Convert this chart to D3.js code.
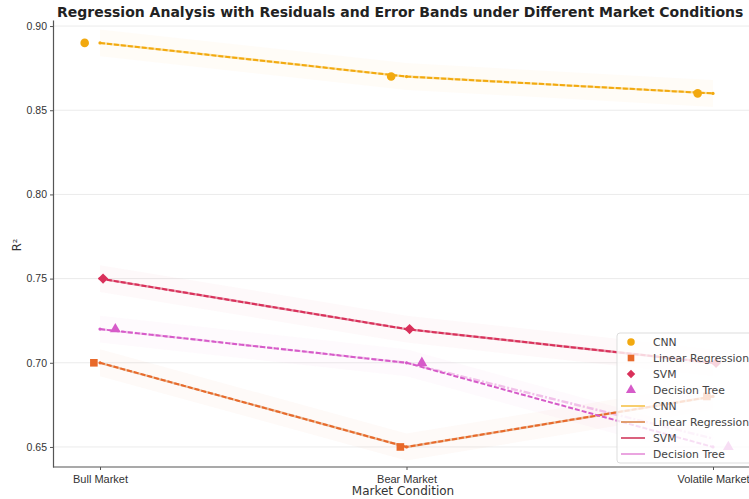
<!DOCTYPE html>
<html>
<head>
<meta charset="utf-8">
<script src="https://cdn.jsdelivr.net/npm/d3@7"></script>
<style>
  body { margin: 0; background: #fff; }
  svg { font-family: "DejaVu Sans", sans-serif; }
  .grid line { stroke: #ebebeb; stroke-width: 1; }
  .axis path, .axis line { stroke: #555; }
  .axis text { fill: #333; }
</style>
</head>
<body>
<svg id="chart" width="749" height="499"></svg>
<script>
// data
const categories = ["Bull Market", "Bear Market", "Volatile Market"];
const models = ["CNN", "Linear Regression", "SVM", "Decision Tree"];
const cnnR2 = [0.89, 0.87, 0.86];
const linRegR2 = [0.70, 0.65, 0.68];
const svmR2 = [0.75, 0.72, 0.70];
const treeR2 = [0.72, 0.70, 0.65];
const treeFit = [0.72, 0.70, 0.655];
const yTicks = [0.65, 0.70, 0.75, 0.80, 0.85, 0.90];

const series = [
  { name: models[0], values: cnnR2, fit: cnnR2, color: "#f2a90f", lineColor: "#f5c24a", shape: d3.symbolCircle, jitter: -0.05 },
  { name: models[1], values: linRegR2, fit: linRegR2, color: "#e8692a", lineColor: "#d9884e", shape: d3.symbolSquare, jitter: -0.02 },
  { name: models[2], values: svmR2, fit: svmR2, color: "#d9305a", lineColor: "#d13a5e", shape: d3.symbolSquare, rotate: 45, jitter: 0.01 },
  { name: models[3], values: treeR2, fit: treeFit, color: "#d65bc9", lineColor: "#e58fd8", shape: d3.symbolTriangle, jitter: 0.05 }
];

const svg = d3.select("#chart");

const x = d3.scaleLinear().domain([0, 2]).range([100, 713]);
const y = d3.scaleLinear().domain([0.6381, 0.9036]).range([467, 20]);

// grid
svg.append("g")
  .attr("class", "grid")
  .selectAll("line")
  .data(yTicks)
  .join("line")
  .attr("x1", 53).attr("x2", 749)
  .attr("y1", d => y(d)).attr("y2", d => y(d));

// error bands
const band = d3.area()
  .x((d, i) => x(i))
  .y0(d => y(d - 0.008))
  .y1(d => y(d + 0.008));

series.forEach(s => {
  svg.append("path")
    .datum(s.values)
    .attr("d", band)
    .attr("fill", s.color)
    .attr("opacity", 0.03);
});

const line = d3.line().x((d, i) => x(i)).y(d => y(d));

// regression lines (solid, soft)
series.forEach(s => {
  svg.append("path")
    .datum(s.fit)
    .attr("d", line)
    .attr("fill", "none")
    .attr("stroke", s.lineColor)
    .attr("stroke-width", 2.4)
    .attr("stroke-opacity", 0.55)
    .attr("stroke-dasharray", s.name === "Decision Tree" ? "7,2,2,2" : null);
});

// residual lines (dashed)
series.forEach(s => {
  svg.append("path")
    .datum(s.values)
    .attr("d", line)
    .attr("fill", "none")
    .attr("stroke", s.color)
    .attr("stroke-width", 2)
    .attr("stroke-dasharray", "5,2");
});

// small end markers
series.forEach(s => {
  svg.append("g")
    .selectAll("circle")
    .data(s.values)
    .join("circle")
    .attr("cx", (d, i) => x(i))
    .attr("cy", d => y(d))
    .attr("r", 1.6)
    .attr("fill", s.color);
});

// scatter markers
series.forEach(s => {
  const size = s.shape === d3.symbolTriangle ? 50 : (s.rotate ? 52 : 58);
  svg.append("g")
    .selectAll("path")
    .data(s.values)
    .join("path")
    .attr("transform", (d, i) => `translate(${x(i + s.jitter)},${y(d)}) rotate(${s.rotate || 0})`)
    .attr("d", d3.symbol().type(s.shape).size(size))
    .attr("fill", s.color);
});

// axes
const yAxis = d3.axisLeft(y).tickValues(yTicks).tickFormat(d3.format(".2f")).tickSize(3).tickSizeOuter(0);
svg.append("g")
  .attr("class", "axis")
  .attr("transform", "translate(53,0)")
  .call(yAxis)
  .call(g => g.selectAll("text").attr("font-size", 10.5))
  .call(g => g.select(".domain").attr("stroke-width", 1.2));

const xAxis = d3.axisBottom(x).tickValues([0, 1, 2]).tickFormat(i => categories[i]).tickSize(3).tickSizeOuter(0);
svg.append("g")
  .attr("class", "axis")
  .attr("transform", "translate(0,467)")
  .call(xAxis)
  .call(g => g.select(".domain").attr("d", "M53,0H749").attr("stroke-width", 1.2))
  .call(g => g.selectAll("text").attr("font-size", 11).attr("dy", "0.95em"));

// titles
svg.append("text")
  .attr("x", 57).attr("y", 17)
  .attr("font-size", 14).attr("font-weight", "bold").attr("fill", "#222")
  .text("Regression Analysis with Residuals and Error Bands under Different Market Conditions");

svg.append("text")
  .attr("x", 403).attr("y", 495)
  .attr("text-anchor", "middle")
  .attr("font-size", 12).attr("fill", "#333")
  .text("Market Condition");

svg.append("text")
  .attr("transform", "translate(21,245) rotate(-90)")
  .attr("text-anchor", "middle")
  .attr("font-size", 11.5).attr("fill", "#333")
  .text("R²");

// legend
const legend = svg.append("g").attr("transform", "translate(617,333)");
legend.append("rect")
  .attr("width", 140).attr("height", 130).attr("rx", 3)
  .attr("fill", "#fff").attr("fill-opacity", 0.8)
  .attr("stroke", "#ddd");

series.forEach((s, i) => {
  const row = legend.append("g").attr("transform", `translate(0,${9 + i * 16})`);
  row.append("path")
    .attr("transform", `translate(14,0) rotate(${s.rotate || 0})`)
    .attr("d", d3.symbol().type(s.shape).size(s.rotate ? 36 : 44))
    .attr("fill", s.color);
  row.append("text")
    .attr("x", 36).attr("dy", "0.35em")
    .attr("font-size", 10.8).attr("fill", "#444")
    .text(s.name);
});

series.forEach((s, i) => {
  const row = legend.append("g").attr("transform", `translate(0,${73 + i * 16})`);
  row.append("line")
    .attr("x1", 4).attr("x2", 28)
    .attr("stroke", s.lineColor).attr("stroke-width", 2).attr("stroke-opacity", 0.8);
  row.append("text")
    .attr("x", 36).attr("dy", "0.35em")
    .attr("font-size", 10.8).attr("fill", "#444")
    .text(s.name);
});
</script>
</body>
</html>
